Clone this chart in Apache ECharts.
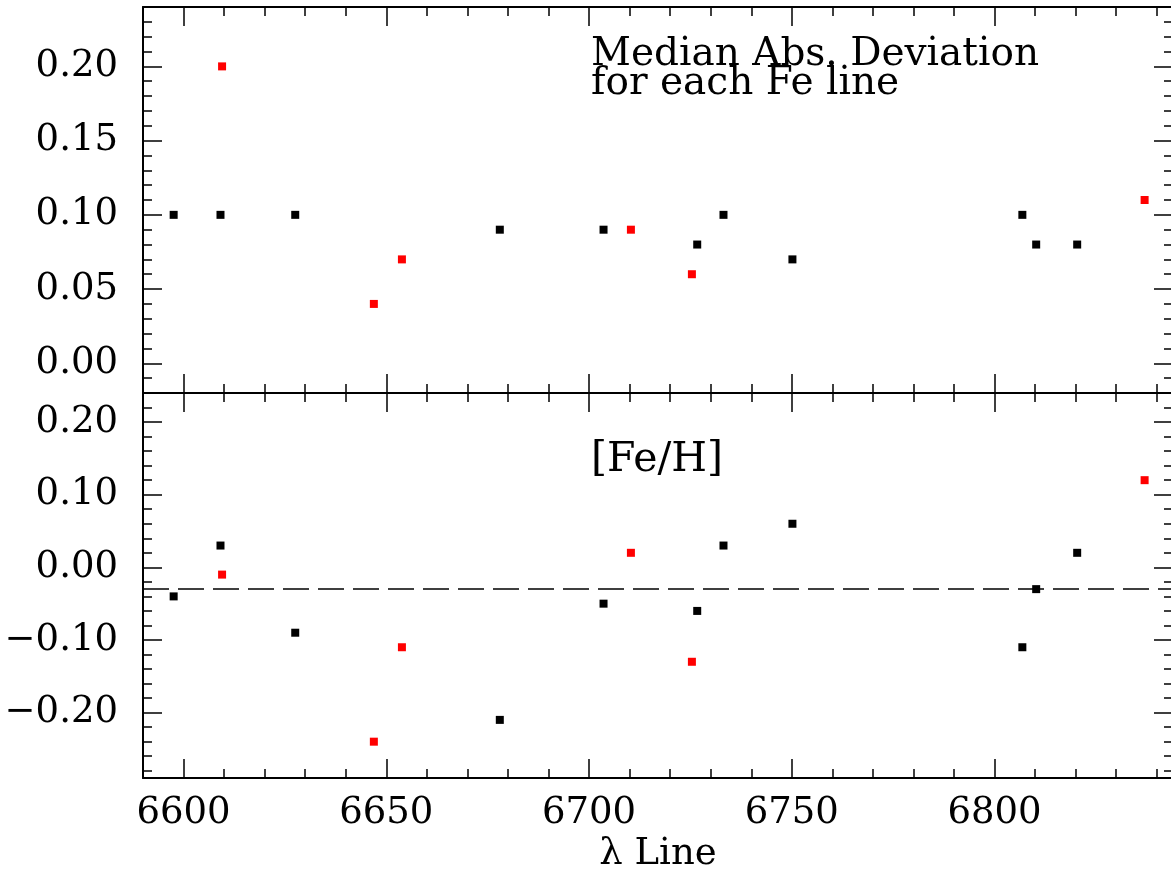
<!DOCTYPE html>
<html>
<head>
<meta charset="utf-8">
<script src="https://cdn.jsdelivr.net/npm/echarts@6/dist/echarts.min.js"></script>
<style>html,body{margin:0;padding:0;background:#fff}#c{width:1171px;height:871px}</style>
</head>
<body>
<div id="c"></div>
<script>
// ---- data ----
const blackWave = [6597.56, 6609.11, 6627.54, 6677.99, 6703.57, 6726.67, 6733.15, 6750.15, 6806.85, 6810.26, 6820.37];
const blackMAD  = [0.10, 0.10, 0.10, 0.09, 0.09, 0.08, 0.10, 0.07, 0.10, 0.08, 0.08];
const blackFeH  = [-0.04, 0.03, -0.09, -0.21, -0.05, -0.06, 0.03, 0.06, -0.11, -0.03, 0.02];
const redWave   = [6609.5, 6646.93, 6653.85, 6710.32, 6725.36, 6837.0];
const redMAD    = [0.20, 0.04, 0.07, 0.09, 0.06, 0.11];
const redFeH    = [-0.01, -0.24, -0.11, 0.02, -0.13, 0.12];
const meanFeH   = -0.03;

const xTicks      = [6600, 6650, 6700, 6750, 6800];
const yTicksTop   = [0.00, 0.05, 0.10, 0.15, 0.20];
const yTicksBot   = [-0.20, -0.10, 0.00, 0.10, 0.20];

const xRange    = [6590, 6844];
const yRangeTop = [-0.02, 0.24];
const yRangeBot = [-0.29, 0.24];

function steps(a, b, s) { const out = []; for (let v = a; v <= b + 1e-9; v += s) out.push(Math.round(v * 1000) / 1000); return out; }
const xMinor    = steps(6590, 6840, 10);
const yMinorTop = steps(-0.02, 0.24, 0.01);
const yMinorBot = steps(-0.28, 0.24, 0.02);

const FONT = 'DejaVu Serif';
const line = { show: true, onZero: false, lineStyle: { color: '#000', width: 2 } };
const noLine = { show: false, onZero: false };
const tickStyle = { color: '#000', width: 1.5 };

function xAxes(g, labels) {
  const base = { type: 'value', gridIndex: g, min: xRange[0], max: xRange[1], splitLine: { show: false } };
  const lab = labels ? {
    show: true, customValues: xTicks, color: '#000', fontFamily: FONT, fontSize: 37, margin: 17,
    formatter: v => String(Math.round(v))
  } : { show: false };
  const a = [
    Object.assign({}, base, { position: 'bottom', axisLine: line,
      axisTick: { show: true, inside: true, length: 19, customValues: xTicks, lineStyle: tickStyle }, axisLabel: lab }),
    Object.assign({}, base, { position: 'bottom', axisLine: noLine,
      axisTick: { show: true, inside: true, length: 9, customValues: xMinor, lineStyle: tickStyle }, axisLabel: { show: false } }),
    Object.assign({}, base, { position: 'top', axisLine: line,
      axisTick: { show: true, inside: true, length: 19, customValues: xTicks, lineStyle: tickStyle }, axisLabel: { show: false } }),
    Object.assign({}, base, { position: 'top', axisLine: noLine,
      axisTick: { show: true, inside: true, length: 9, customValues: xMinor, lineStyle: tickStyle }, axisLabel: { show: false } })
  ];
  if (labels) {
    a[0].name = 'λ Line';
    a[0].nameLocation = 'middle';
    a[0].nameGap = 58;
    a[0].nameTextStyle = { color: '#000', fontFamily: FONT, fontSize: 37 };
  }
  return a;
}
function yAxes(g, range, major, minor) {
  const base = { type: 'value', gridIndex: g, min: range[0], max: range[1], splitLine: { show: false } };
  return [
    Object.assign({}, base, { position: 'left', axisLine: line,
      axisTick: { show: true, inside: true, length: 19, customValues: major, lineStyle: tickStyle },
      axisLabel: { show: true, customValues: major, color: '#000', fontFamily: FONT, fontSize: 37, margin: 25,
        formatter: v => v.toFixed(2).replace('-', '\u2212') } }),
    Object.assign({}, base, { position: 'left', axisLine: noLine,
      axisTick: { show: true, inside: true, length: 9, customValues: minor, lineStyle: tickStyle }, axisLabel: { show: false } }),
    Object.assign({}, base, { position: 'right', axisLine: line,
      axisTick: { show: true, inside: true, length: 19, customValues: major, lineStyle: tickStyle }, axisLabel: { show: false } }),
    Object.assign({}, base, { position: 'right', axisLine: noLine,
      axisTick: { show: true, inside: true, length: 9, customValues: minor, lineStyle: tickStyle }, axisLabel: { show: false } })
  ];
}
const zip = (xs, ys) => xs.map((x, i) => [x, ys[i]]);
const pt = (name, xi, yi, data, color) => ({
  name, type: 'scatter', xAxisIndex: xi, yAxisIndex: yi, data, symbol: 'rect', symbolSize: 8,
  itemStyle: { color, opacity: 1 }, silent: true
});

const chart = echarts.init(document.getElementById('c'), null, { renderer: 'canvas' });
const bottomBlack = pt('Fe black [Fe/H]', 4, 4, zip(blackWave, blackFeH), '#000');
bottomBlack.markLine = {
  silent: true, symbol: 'none', label: { show: false },
  lineStyle: { color: '#000', width: 1.5, type: [26, 9] },
  data: [{ yAxis: meanFeH }]
};
chart.setOption({
  animation: false,
  backgroundColor: '#fff',
  grid: [
    { left: 143, top: 7, width: 1030, height: 386, outerBoundsMode: 'none', containLabel: false },
    { left: 143, top: 393, width: 1030, height: 385, outerBoundsMode: 'none', containLabel: false }
  ],
  xAxis: [].concat(xAxes(0, false), xAxes(1, true)),
  yAxis: [].concat(yAxes(0, yRangeTop, yTicksTop, yMinorTop), yAxes(1, yRangeBot, yTicksBot, yMinorBot)),
  series: [
    pt('Fe black MAD', 0, 0, zip(blackWave, blackMAD), '#000'),
    pt('Fe red MAD', 0, 0, zip(redWave, redMAD), '#ff0000'),
    bottomBlack,
    pt('Fe red [Fe/H]', 4, 4, zip(redWave, redFeH), '#ff0000')
  ],
  graphic: [
    { type: 'text', left: 591, top: 35, style: { text: 'Median Abs. Deviation', font: '39px "DejaVu Serif"', fill: '#000' } },
    { type: 'text', left: 591, top: 64, style: { text: 'for each Fe line', font: '39px "DejaVu Serif"', fill: '#000' } },
    { type: 'text', left: 591, top: 440, style: { text: '[Fe/H]', font: '41px "DejaVu Serif"', fill: '#000' } }
  ]
});
</script>
</body>
</html>
